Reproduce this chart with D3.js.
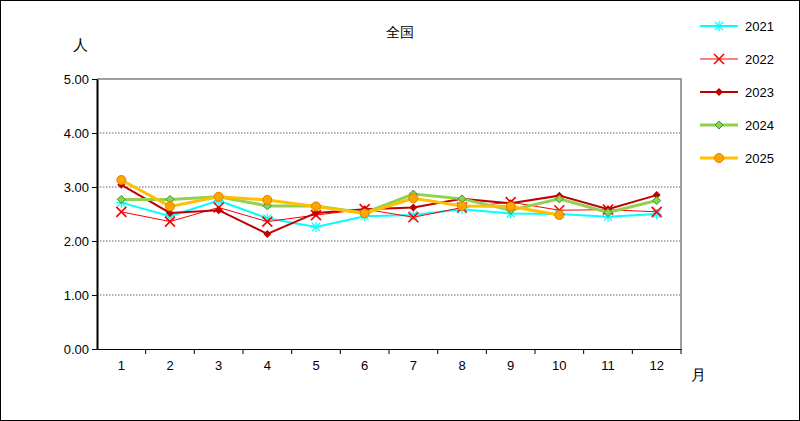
<!DOCTYPE html>
<html><head><meta charset="utf-8">
<script src="https://cdn.jsdelivr.net/npm/d3@7"></script>
<style>body{margin:0;font-family:"Liberation Sans",Arial,sans-serif;}</style>
</head><body><svg id="c" width="800" height="421"></svg>
<script>
const months = ["1","2","3","4","5","6","7","8","9","10","11","12"];
const yTicks = [0,1,2,3,4,5];
const v2021 = [2.71,2.46,2.75,2.42,2.26,2.46,2.48,2.59,2.51,2.50,2.45,2.50];
const v2022 = [2.54,2.36,2.62,2.36,2.48,2.59,2.44,2.62,2.72,2.57,2.58,2.54];
const v2023 = [3.04,2.52,2.57,2.13,2.52,2.59,2.62,2.78,2.70,2.84,2.59,2.85];
const v2024 = [2.77,2.77,2.82,2.65,2.65,2.52,2.87,2.78,2.57,2.78,2.53,2.75];
const v2025 = [3.13,2.64,2.82,2.76,2.64,2.51,2.79,2.65,2.64,2.48];
const series = [
  {name:"2021", values:v2021, color:"#00ffff", w:2, marker:"star"},
  {name:"2022", values:v2022, color:"#ff0000", w:1, marker:"x"},
  {name:"2023", values:v2023, color:"#c00000", w:2, marker:"diamond"},
  {name:"2024", values:v2024, color:"#92d050", w:3, marker:"diamondG"},
  {name:"2025", values:v2025, color:"#ffc000", w:3, marker:"circle"}
];
const svg = d3.select("#c");
svg.append("rect").attr("x",0.5).attr("y",0.5).attr("width",799).attr("height",420).attr("fill","#fff").attr("stroke","#000");
const L=97,R=681,T=79,B=349;
const x = d3.scaleBand().domain(months).range([L,R]);
const y = d3.scaleLinear().domain([0,5]).range([B,T]);
const g = svg.append("g");
yTicks.filter(d=>d>0 && d<5).forEach(t=>{
  g.append("line").attr("x1",L).attr("x2",R).attr("y1",y(t)).attr("y2",y(t))
   .attr("stroke","#666").attr("stroke-dasharray","1.5,1.5");
});
// plot border top/right
g.append("path").attr("d",`M${L},${T}H${R}V${B}`).attr("fill","none").attr("stroke","#808080").attr("stroke-width",1.5);
g.append("g").attr("transform",`translate(${L},0)`)
 .call(d3.axisLeft(y).tickValues(yTicks).tickFormat(d3.format(".2f")).tickSize(5).tickSizeOuter(0))
 .call(a=>{a.select(".domain").attr("stroke-width",2);a.selectAll("text").attr("font-size",13).attr("fill","#000");});
g.append("g").attr("transform",`translate(0,${B})`)
 .call(d3.axisBottom(x).tickSize(0).tickPadding(12).tickSizeOuter(0))
 .call(a=>{a.select(".domain").attr("stroke-width",1);a.selectAll("text").attr("font-size",13).attr("fill","#000");});
months.forEach((m,i)=>{ if(i>0) g.append("line").attr("x1",x(m)).attr("x2",x(m)).attr("y1",B).attr("y2",B+5).attr("stroke","#000"); });
g.append("line").attr("x1",R).attr("x2",R).attr("y1",B).attr("y2",B+5).attr("stroke","#000");
svg.append("text").attr("x",400).attr("y",37).attr("text-anchor","middle").attr("font-size",14).text("全国");
svg.append("text").attr("x",80).attr("y",50).attr("text-anchor","middle").attr("font-size",15).text("人");
svg.append("text").attr("x",698).attr("y",380).attr("text-anchor","middle").attr("font-size",15).text("月");

function marker(sel,s,cx,cy){
  if(s.marker==="star"){
    [[-5,0,5,0],[0,-5,0,5],[-4,-4,4,4],[-4,4,4,-4]].forEach(l=>sel.append("line").attr("x1",cx+l[0]).attr("y1",cy+l[1]).attr("x2",cx+l[2]).attr("y2",cy+l[3]).attr("stroke",s.color).attr("stroke-width",1.2));
  } else if(s.marker==="x"){
    [[-5,-5,5,5],[-5,5,5,-5]].forEach(l=>sel.append("line").attr("x1",cx+l[0]).attr("y1",cy+l[1]).attr("x2",cx+l[2]).attr("y2",cy+l[3]).attr("stroke",s.color).attr("stroke-width",1.6));
  } else if(s.marker==="diamond"){
    sel.append("path").attr("d",`M${cx},${cy-4}L${cx+4},${cy}L${cx},${cy+4}L${cx-4},${cy}Z`).attr("fill",s.color);
  } else if(s.marker==="diamondG"){
    sel.append("path").attr("d",`M${cx},${cy-4}L${cx+4},${cy}L${cx},${cy+4}L${cx-4},${cy}Z`).attr("fill",s.color).attr("stroke","#339933");
  } else {
    sel.append("circle").attr("cx",cx).attr("cy",cy).attr("r",4.5).attr("fill","#ffa500").attr("stroke","#e08000");
  }
}
const line = d3.line().x((d,i)=>x(months[i])+x.bandwidth()/2).y(d=>y(d));
series.forEach((s,k)=>{
  const sg = svg.append("g");
  sg.append("path").attr("d",line(s.values)).attr("fill","none").attr("stroke",s.color).attr("stroke-width",s.w);
  s.values.forEach((v,i)=>marker(sg,s,x(months[i])+x.bandwidth()/2,y(v)));
  const ly = 26+k*33;
  sg.append("line").attr("x1",700).attr("x2",738).attr("y1",ly).attr("y2",ly).attr("stroke",s.color).attr("stroke-width",s.w);
  marker(sg,s,719,ly);
  sg.append("text").attr("x",745).attr("y",ly+5).attr("font-size",13).text(s.name);
});
</script></body></html>
